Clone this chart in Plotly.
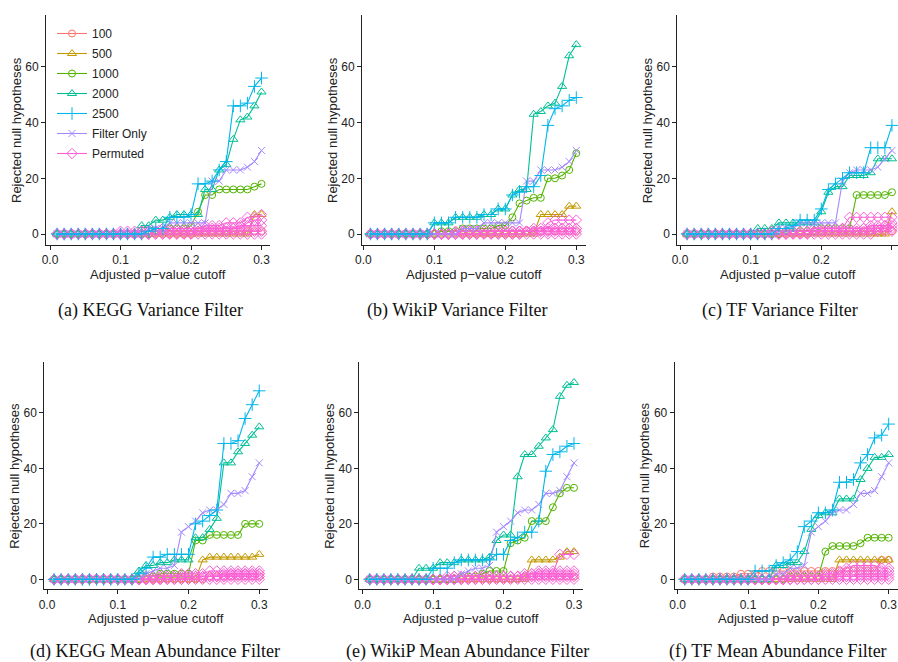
import plotly.graph_objects as go

# ---------------- data ----------------
CUTOFF = [0.01, 0.02, 0.03, 0.04, 0.05, 0.06, 0.07, 0.08, 0.09, 0.10,
          0.11, 0.12, 0.13, 0.14, 0.15, 0.16, 0.17, 0.18, 0.19, 0.20,
          0.21, 0.22, 0.23, 0.24, 0.25, 0.26, 0.27, 0.28, 0.29, 0.30]

SERIES_NAMES = ["100", "500", "1000", "2000", "2500", "Filter Only", "Permuted"]
X_TICKS = [0.0, 0.1, 0.2, 0.3]
X_TICK_LABELS = ["0.0", "0.1", "0.2", "0.3"]
Y_TICKS = [0, 20, 40, 60]
CAPTIONS = ["(a) KEGG Variance Filter", "(b) WikiP Variance Filter", "(c) TF Variance Filter",
            "(d) KEGG Mean Abundance Filter", "(e) WikiP Mean Abundance Filter",
            "(f) TF Mean Abundance Filter"]
X_TITLE = "Adjusted p\u2212value cutoff"
Y_TITLE = "Rejected null hypotheses"

# (a) KEGG Variance Filter
A_100 = [0,0,0,0,0,0,0,0,0,0, 0,0,0,0,0,0,0,0,0,0, 1,1,1,1,1,1,1,1,1,1]
A_500 = [0,0,0,0,0,0,0,0,0,0, 0,0,0,0,0,0,0,0,0,0, 0,0,0,0,0,0,0,0,7,7]
A_1000 = [0,0,0,0,0,0,0,0,0,0, 0,0,0,0,1,1,2,2,2,3, 8,14,14,16,16,16,16,16,17,18]
A_2000 = [0,0,0,0,0,0,0,0,0,0, 0,0,3,3,5,5,6,7,7,7, 7,16,16,23,25,34,41,42,46,51]
A_2500 = [0,0,0,0,0,0,0,0,0,0, 0,0,0,1,2,2,6,6,6,7, 18,18,19,23,26,46,46,47,53,56]
A_FILTER = [0,0,0,0,0,0,0,0,0,0, 0,0,0,2,2,2,4,4,4,4, 4,4,19,19,23,23,23,24,26,30]
A_PERM = [
    [0,0,0,0,0,0,0,0,0,1, 1,1,1,1,1,2,2,2,2,2, 2,3,3,3,4,4,4,6,6,7],
    [0,0,0,0,0,0,0,0,0,0, 0,0,1,1,1,1,1,1,1,1, 2,2,2,2,2,2,3,3,3,3],
    [0,0,0,0,0,0,0,0,0,0, 0,0,0,0,1,1,1,1,1,1, 1,1,1,1,1,1,1,1,1,1],
    [0,0,0,0,0,0,0,0,0,0, 0,0,0,0,0,0,0,0,0,0, 1,1,1,1,1,2,2,4,5,5],
    [0,0,0,0,0,0,0,0,0,0, 0,0,0,0,0,0,0,0,0,0, 0,0,0,0,0,0,0,0,0,0],
]

# (b) WikiP Variance Filter
B_100 = [0,0,0,0,0,0,0,0,0,0, 0,0,0,0,0,0,0,0,0,0, 0,0,1,1,1,1,1,1,1,1]
B_500 = [0,0,0,0,0,0,0,0,0,0, 0,0,0,0,0,0,0,0,0,0, 0,0,0,0,7,7,7,7,10,10]
B_1000 = [0,0,0,0,0,0,0,0,0,0, 1,1,1,2,2,2,2,2,3,3, 6,11,12,13,13,20,20,21,23,29]
B_2000 = [0,0,0,0,0,0,0,0,0,4, 4,4,6,6,6,6,7,7,9,9, 14,16,16,43,44,46,47,53,64,68]
B_2500 = [0,0,0,0,0,0,0,0,0,4, 4,4,6,6,6,6,7,7,9,9, 14,15,17,17,21,39,45,46,48,49]
B_FILTER = [0,0,0,0,0,0,0,0,0,0, 0,0,0,2,2,2,4,4,4,4, 4,4,19,19,23,23,23,24,26,30]
B_PERM = [
    [0,0,0,0,0,0,0,0,0,0, 0,0,1,1,1,1,1,1,1,1, 1,1,1,1,1,4,5,5,5,5],
    [0,0,0,0,0,0,0,0,0,0, 0,0,0,1,1,1,1,1,1,1, 1,1,1,2,2,2,2,2,2,2],
    [0,0,0,0,0,0,0,0,0,0, 0,0,0,0,0,0,1,1,1,1, 1,1,1,1,1,1,1,1,1,1],
    [0,0,0,0,0,0,0,0,0,0, 0,0,0,0,0,0,0,0,0,0, 0,0,1,1,1,1,2,2,2,2],
    [0,0,0,0,0,0,0,0,0,0, 0,0,0,0,0,0,0,0,0,0, 0,0,0,0,0,0,0,0,0,0],
]

# (c) TF Variance Filter
C_100 = [0,0,0,0,0,0,0,0,0,0, 0,0,0,0,0,0,0,0,1,1, 1,1,1,1,1,1,1,1,1,1]
C_500 = [0,0,0,0,0,0,0,0,0,0, 0,0,0,0,0,0,0,0,0,0, 0,0,0,0,0,0,0,0,0,8]
C_1000 = [0,0,0,0,0,0,0,0,0,0, 0,0,0,0,1,1,1,1,1,2, 2,2,2,2,14,14,14,14,14,15]
C_2000 = [0,0,0,0,0,0,0,0,0,0, 2,2,2,4,4,4,4,4,4,8, 15,17,17,21,21,21,22,27,27,27]
C_2500 = [0,0,0,0,0,0,0,0,0,0, 0,0,0,2,2,3,5,5,5,9, 16,18,20,22,22,22,31,31,31,39]
C_FILTER = [0,0,0,0,0,0,0,0,0,0, 0,0,0,2,2,2,4,4,4,4, 4,4,19,22,23,23,23,24,27,30]
C_PERM = [
    [0,0,0,0,0,0,0,0,0,0, 0,0,1,1,1,1,1,1,2,2, 2,2,2,6,6,6,6,6,6,6],
    [0,0,0,0,0,0,0,0,0,0, 0,0,0,1,1,1,1,1,1,1, 1,1,2,2,2,2,3,3,3,3],
    [0,0,0,0,0,0,0,0,0,0, 0,0,0,0,0,1,1,1,1,1, 1,1,1,1,1,2,2,2,2,2],
    [0,0,0,0,0,0,0,0,0,0, 0,0,0,0,0,0,0,0,1,1, 1,1,1,1,1,1,1,1,1,1],
    [0,0,0,0,0,0,0,0,0,0, 0,0,0,0,0,0,0,0,0,0, 0,0,0,0,0,0,0,1,3,4],
]

# (d) KEGG Mean Abundance Filter
D_100 = [0,0,0,0,0,0,0,0,0,0, 0,0,0,0,0,0,0,0,0,0, 0,0,1,1,1,1,1,1,1,1]
D_500 = [0,0,0,0,0,0,0,0,0,0, 0,0,0,0,0,0,0,0,0,0, 0,7,8,8,8,8,8,8,8,9]
D_1000 = [0,0,0,0,0,0,0,0,0,0, 0,0,0,1,1,2,2,2,2,2, 14,14,16,16,16,16,16,20,20,20]
D_2000 = [0,0,0,0,0,0,0,0,0,0, 0,0,3,5,5,6,6,7,7,7, 15,15,18,22,42,42,46,49,52,55]
D_2500 = [0,0,0,0,0,0,0,0,0,0, 0,0,2,4,8,8,9,9,9,9, 20,21,23,25,49,49,50,58,63,68]
D_FILTER = [0,0,0,0,0,0,0,0,0,0, 0,0,0,2,3,4,4,5,17,19, 21,24,25,25,27,31,31,32,37,42]
D_PERM = [
    [0,0,0,0,0,0,0,0,0,0, 0,0,0,1,1,1,1,1,2,2, 2,2,3,3,3,3,3,3,3,3],
    [0,0,0,0,0,0,0,0,0,0, 0,0,0,0,1,1,1,1,1,1, 1,1,1,1,2,2,2,2,2,2],
    [0,0,0,0,0,0,0,0,0,0, 0,0,0,0,0,0,1,1,1,1, 1,1,1,1,1,1,1,1,1,1],
    [0,0,0,0,0,0,0,0,0,0, 0,0,0,0,0,0,0,0,0,0, 1,1,1,1,1,2,2,2,2,2],
    [0,0,0,0,0,0,0,0,0,0, 0,0,0,0,0,0,0,0,0,0, 0,0,0,0,0,0,0,0,0,0],
]

# (e) WikiP Mean Abundance Filter
E_100 = [0,0,0,0,0,0,0,0,0,0, 0,0,0,0,0,0,0,0,0,0, 0,0,1,1,1,1,1,1,1,1]
E_500 = [0,0,0,0,0,0,0,0,0,0, 0,0,0,0,0,0,0,0,0,0, 0,0,0,7,7,7,7,8,10,10]
E_1000 = [0,0,0,0,0,0,0,0,0,0, 0,0,0,1,1,1,2,3,3,3, 13,14,15,21,21,21,26,31,33,33]
E_2000 = [0,0,0,0,0,0,0,4,4,4, 6,6,6,7,7,7,7,8,14,16, 16,37,45,45,48,51,54,66,70,71]
E_2500 = [0,0,0,0,0,0,0,0,0,4, 4,4,6,7,7,7,7,7,9,9, 14,15,17,17,21,39,45,46,48,49]
E_FILTER = [0,0,0,0,0,0,0,0,0,0, 0,0,0,2,3,4,4,5,17,19, 21,24,25,25,27,31,31,32,37,42]
E_PERM = [
    [0,0,0,0,0,0,0,0,0,0, 0,1,1,1,1,1,1,1,1,1, 1,1,2,2,2,2,2,9,9,9],
    [0,0,0,0,0,0,0,0,0,0, 0,0,1,1,1,1,1,1,1,1, 1,1,1,1,3,3,3,3,3,3],
    [0,0,0,0,0,0,0,0,0,0, 0,0,0,0,0,1,1,1,1,1, 1,1,1,2,2,2,2,2,2,2],
    [0,0,0,0,0,0,0,0,0,0, 0,0,0,0,0,0,0,0,1,1, 1,1,1,1,1,1,1,1,1,1],
    [0,0,0,0,0,0,0,0,0,0, 0,0,0,0,0,0,0,0,0,0, 0,0,0,0,0,0,0,0,0,0],
]

# (f) TF Mean Abundance Filter
F_100 = [0,0,0,0,1,1,1,1,2,2, 2,3,3,3,3,3,3,3,3,3, 3,3,3,3,3,3,3,3,7,7]
F_500 = [0,0,0,0,0,0,0,0,0,0, 0,0,0,0,0,0,0,0,0,0, 0,0,7,7,7,7,7,7,7,7]
F_1000 = [0,0,0,0,0,0,0,0,0,0, 0,0,0,0,0,1,1,1,1,1, 10,12,12,12,12,13,15,15,15,15]
F_2000 = [0,0,0,0,0,0,0,0,0,0, 0,0,0,5,5,6,6,10,18,23, 24,24,29,29,29,36,40,44,44,45]
F_2500 = [0,0,0,0,0,0,0,0,0,0, 3,3,3,5,6,7,10,19,21,24, 24,25,35,35,36,42,45,51,52,56]
F_FILTER = [0,0,0,0,0,0,0,0,0,0, 0,0,0,2,2,4,4,5,17,19, 21,24,25,25,27,31,31,32,37,42]
F_PERM = [
    [0,0,0,0,0,0,0,0,0,0, 0,0,0,0,1,1,1,1,1,1, 2,2,2,4,5,5,5,5,4,4],
    [0,0,0,0,0,0,0,0,0,0, 0,0,0,0,0,1,1,1,1,1, 1,1,3,3,3,3,3,3,3,3],
    [0,0,0,0,0,0,0,0,0,0, 0,0,0,0,0,0,1,1,1,1, 1,1,1,1,1,2,2,2,2,2],
    [0,0,0,0,0,0,0,0,0,0, 0,0,0,0,0,0,0,0,0,0, 1,1,1,1,1,1,1,1,1,1],
    [0,0,0,0,0,0,0,0,0,0, 0,0,0,0,0,0,0,0,0,0, 0,0,0,0,0,0,0,0,0,0],
]

PANEL_DATA = [
    [A_100, A_500, A_1000, A_2000, A_2500, A_FILTER, A_PERM],
    [B_100, B_500, B_1000, B_2000, B_2500, B_FILTER, B_PERM],
    [C_100, C_500, C_1000, C_2000, C_2500, C_FILTER, C_PERM],
    [D_100, D_500, D_1000, D_2000, D_2500, D_FILTER, D_PERM],
    [E_100, E_500, E_1000, E_2000, E_2500, E_FILTER, E_PERM],
    [F_100, F_500, F_1000, F_2000, F_2500, F_FILTER, F_PERM],
]

# ---------------- style / layout ----------------
W, H = 898, 662
COLORS = ["#F8766D", "#C49A00", "#53B400", "#00C094", "#00B6EB", "#A58AFF", "#FB61D7"]
SYMBOLS = ["circle-open", "triangle-up-open", "circle-open", "triangle-up-open",
           "cross-thin-open", "x-thin-open", "diamond-open"]
SIZES = [7, 8, 7, 8, 9, 7, 8]
# draw order (index into series)
DRAW_ORDER = [0, 1, 2, 3, 6, 5, 4]

# pixel geometry for each panel: y-axis x, axis right end, px of x=0, px per unit x,
# top px, bottom px, px of y=0, px per unit y
GEOM = [
    (46.0, 270.0, 50.0, 705.0, 15.0, 245.0, 234.0, 2.785),
    (362.0, 586.0, 363.3, 710.0, 15.0, 245.0, 234.0, 2.785),
    (677.3, 898.0, 680.0, 706.5, 15.0, 245.0, 234.0, 2.785),
    (44.3, 268.0, 47.0, 707.5, 361.7, 589.3, 579.3, 2.772),
    (359.3, 583.0, 362.7, 704.3, 361.7, 589.3, 579.3, 2.772),
    (674.7, 898.0, 677.7, 703.3, 361.7, 589.3, 579.3, 2.772),
]
CAPTION_POS = [(150, 310), (457, 310), (780, 310), (155, 651), (467, 651), (778, 651)]

SANS = "Liberation Sans, Arial, sans-serif"
SERIF = "Liberation Serif, Times New Roman, serif"

fig = go.Figure()
layout = dict(width=W, height=H, autosize=False,
              margin=dict(l=0, r=0, t=0, b=0),
              paper_bgcolor="white", plot_bgcolor="white",
              showlegend=True,
              legend=dict(x=52 / W, y=1 - 19 / H, xanchor="left", yanchor="top",
                          bgcolor="rgba(0,0,0,0)", font=dict(family=SANS, size=12, color="#222"),
                          itemwidth=30, traceorder="grouped", tracegroupgap=1),
              annotations=[])

for k, (geom, data) in enumerate(zip(GEOM, PANEL_DATA)):
    L, R, x0, ppu, top, bot, y0, ypu = geom
    xa = "xaxis" if k == 0 else f"xaxis{k+1}"
    ya = "yaxis" if k == 0 else f"yaxis{k+1}"
    xref = "x" if k == 0 else f"x{k+1}"
    yref = "y" if k == 0 else f"y{k+1}"
    layout[xa] = dict(domain=[L / W, R / W], range=[(L - x0) / ppu, (R - x0) / ppu],
                      anchor=yref, showgrid=False, zeroline=False, showline=True,
                      linecolor="#222", linewidth=1, ticks="outside", ticklen=4,
                      tickcolor="#222", tickvals=X_TICKS, ticktext=X_TICK_LABELS,
                      tickfont=dict(family=SANS, size=12, color="#222"), automargin=False)
    layout[ya] = dict(domain=[1 - bot / H, 1 - top / H], range=[(y0 - bot) / ypu, (y0 - top) / ypu],
                      anchor=xref, showgrid=False, zeroline=False, showline=True,
                      linecolor="#222", linewidth=1, ticks="outside", ticklen=4,
                      tickcolor="#222", tickvals=Y_TICKS,
                      tickfont=dict(family=SANS, size=12, color="#222"), automargin=False)
    for s in DRAW_ORDER:
        series = data[s]
        runs = series if s == 6 else [series]
        for j, yvals in enumerate(runs):
            fig.add_trace(go.Scatter(
                x=CUTOFF, y=yvals, xaxis=xref, yaxis=yref, mode="lines+markers",
                name=SERIES_NAMES[s], legendgroup=SERIES_NAMES[s], legendrank=s + 1,
                showlegend=(k == 0 and j == 0),
                line=dict(color=COLORS[s], width=1.1),
                marker=dict(symbol=SYMBOLS[s], size=SIZES[s], color=COLORS[s],
                            line=dict(width=1, color=COLORS[s])),
                cliponaxis=False))
    cx = (L + R) / 2
    layout["annotations"].append(dict(
        text=X_TITLE, xref="paper", yref="paper", x=cx / W, y=1 - (bot + 29) / H,
        xanchor="center", yanchor="middle", showarrow=False,
        font=dict(family=SANS, size=13, color="#222")))
    layout["annotations"].append(dict(
        text=Y_TITLE, xref="paper", yref="paper", x=(L - 30) / W, y=1 - ((top + bot) / 2) / H,
        xanchor="center", yanchor="middle", showarrow=False, textangle=-90,
        font=dict(family=SANS, size=13, color="#222")))
    capx, capy = CAPTION_POS[k]
    layout["annotations"].append(dict(
        text=CAPTIONS[k], xref="paper", yref="paper", x=capx / W, y=1 - capy / H,
        xanchor="center", yanchor="middle", showarrow=False,
        font=dict(family=SERIF, size=18, color="#111")))

fig.update_layout(**layout)
fig.write_html("out.html")
